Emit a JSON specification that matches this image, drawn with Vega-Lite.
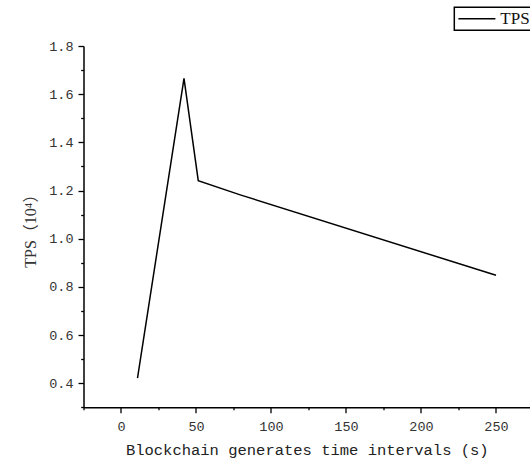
{
  "$schema": "https://vega.github.io/schema/vega-lite/v6.json",
  "width": 446.5,
  "height": 361.3,
  "autosize": "none",
  "padding": {"left": 83.5, "top": 46, "right": 0, "bottom": 55.7},
  "background": "white",
  "config": {
    "view": {"stroke": null},
    "axis": {
      "grid": false,
      "domainColor": "black",
      "domainWidth": 1.5,
      "tickColor": "black",
      "tickWidth": 1.3,
      "labelFont": "Liberation Mono",
      "labelFontSize": 13.5,
      "labelColor": "#333333",
      "titleFont": "Liberation Mono",
      "titleColor": "#222222",
      "titleFontWeight": "normal",
      "labelOverlap": false,
      "labelFlush": false
    }
  },
  "data": {
    "values": [
      {"x": 11, "y": 0.421, "series": "TPS"},
      {"x": 42, "y": 1.666, "series": "TPS"},
      {"x": 51.5, "y": 1.241, "series": "TPS"},
      {"x": 80, "y": 1.181, "series": "TPS"},
      {"x": 250, "y": 0.848, "series": "TPS"}
    ]
  },
  "mark": {"type": "line", "strokeWidth": 1.5},
  "encoding": {
    "x": {
      "field": "x",
      "type": "quantitative",
      "scale": {"domain": [-25, 272.67], "nice": false, "zero": false},
      "axis": {
        "title": "Blockchain generates time intervals (s)",
        "titleFontSize": 15.5,
        "titlePadding": 9,
        "values": [-25, 0, 25, 50, 75, 100, 125, 150, 175, 200, 225, 250],
        "labelExpr": "datum.value % 50 === 0 ? datum.label : ''",
        "tickSize": {"condition": {"test": "datum.value % 50 === 0", "value": 5.5}, "value": 2.5},
        "labelPadding": 7
      }
    },
    "y": {
      "field": "y",
      "type": "quantitative",
      "scale": {"domain": [0.3, 1.8], "nice": false, "zero": false},
      "axis": {
        "title": "TPS（10⁴）",
        "titleFont": "Liberation Serif, Noto Sans CJK SC",
        "titleFontSize": 16,
        "titleColor": "#333333",
        "titlePadding": 10,
        "values": [0.3, 0.4, 0.5, 0.6, 0.7, 0.8, 0.9, 1.0, 1.1, 1.2, 1.3, 1.4, 1.5, 1.6, 1.7, 1.8],
        "format": ".1f",
        "labelExpr": "abs(datum.value * 5 - round(datum.value * 5)) < 0.001 ? datum.label : ''",
        "tickSize": {"condition": {"test": "abs(datum.value * 5 - round(datum.value * 5)) < 0.001", "value": 5.5}, "value": 2.8},
        "labelPadding": 5
      }
    },
    "color": {
      "field": "series",
      "type": "nominal",
      "scale": {"range": ["black"]},
      "legend": {
        "title": null,
        "orient": "none",
        "legendX": 370.8,
        "legendY": -38.7,
        "symbolType": "M-1,0H4",
        "symbolSize": 219,
        "symbolStrokeWidth": 1.5,
        "labelFont": "Liberation Serif",
        "labelFontSize": 17,
        "labelColor": "#111111",
        "labelOffset": 26,
        "padding": 3,
        "strokeColor": "black",
        "fillColor": "white",
        "cornerRadius": 0,
        "encode": {"legend": {"update": {"strokeWidth": {"value": 1.5}}}}
      }
    }
  }
}
